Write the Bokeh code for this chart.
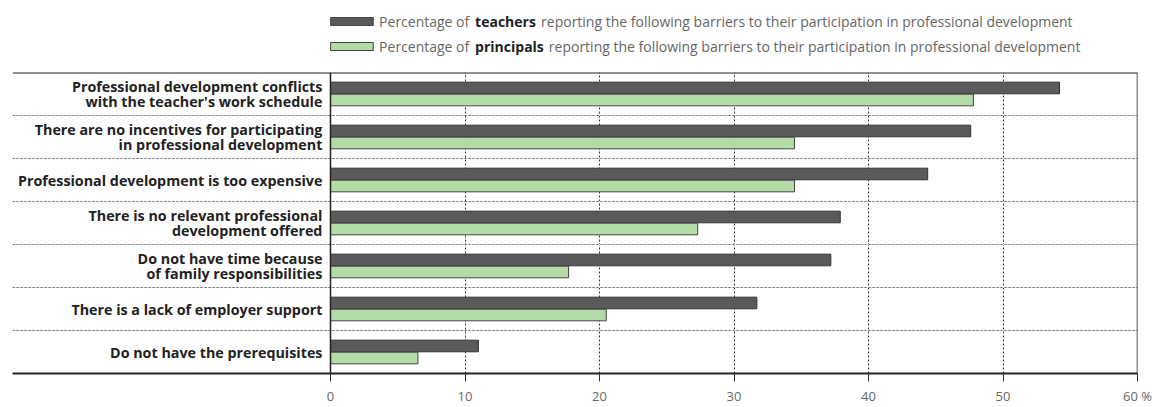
from bokeh.plotting import figure
from bokeh.layouts import column
from bokeh.models import Range1d, FixedTicker, Span, Grid, ColumnDataSource
from bokeh.core.properties import value
from bokeh.embed import file_html
from bokeh.resources import INLINE

categories = [
    "Professional development conflicts\nwith the teacher's work schedule",
    "There are no incentives for participating\nin professional development",
    "Professional development is too expensive",
    "There is no relevant professional\ndevelopment offered",
    "Do not have time because\nof family responsibilities",
    "There is a lack of employer support",
    "Do not have the prerequisites",
]
teachers = [54.2, 47.6, 44.4, 37.9, 37.2, 31.7, 11.0]
principals = [47.8, 34.5, 34.5, 27.3, 17.7, 20.5, 6.5]
x_ticks = [0, 10, 20, 30, 40, 50, 60]

n = len(categories)
centers = [n - 0.5 - i for i in range(n)]
BH = 0.27
DARK = "#5a5a5a"
GREEN = "#b2dba6"
FONT = "Open Sans"

W = 1160
# ---------- legend figure ----------
LH = 60
leg = figure(width=W, height=LH, x_range=Range1d(0, W), y_range=Range1d(LH, 0),
             toolbar_location=None, output_backend="svg", min_border=0,
             x_axis_location=None, y_axis_location=None)
leg.outline_line_color = None
leg.xgrid.visible = False
leg.ygrid.visible = False
leg_y = [21, 46]
leg.rect(x=[350, 350], y=leg_y, width=44, height=8,
         fill_color=[DARK, GREEN], line_color="#444", line_width=1)
leg.text(x=[378, 378], y=leg_y, text=["Percentage of", "Percentage of"],
         text_font=value(FONT), text_font_size="14px", text_color="#666",
         text_baseline="middle", text_align="left")
leg.text(x=[477, 477], y=leg_y, text=["teachers", "principals"],
         text_font=value(FONT), text_font_size="14px", text_color="#222",
         text_font_style="bold", text_baseline="middle", text_align="left")
rest = "reporting the following barriers to their participation in professional development"
leg.text(x=[545, 553], y=leg_y, text=[rest, rest],
         text_font=value(FONT), text_font_size="14px", text_color="#666",
         text_baseline="middle", text_align="left")

# ---------- main figure ----------
MH = 347
left_px = 318.0
frame_w = 1125.0
upp = 60.0 / (frame_w - left_px)
x0 = -left_px * upp

p = figure(width=W, height=MH, x_range=Range1d(x0, 60), y_range=Range1d(0, n),
           toolbar_location=None, output_backend="svg",
           min_border_left=12, min_border_right=W - 12 - int(frame_w),
           min_border_top=12, min_border_bottom=30,
           y_axis_location=None)
p.outline_line_color = None
p.background_fill_color = "white"

p.xgrid.ticker = FixedTicker(ticks=[10, 20, 30, 40, 50])
p.xgrid.grid_line_color = "#333"
p.xgrid.grid_line_dash = "2 2"
p.xgrid.grid_line_width = 1

hgrid = Grid(dimension=1, ticker=FixedTicker(ticks=list(range(1, n))),
             grid_line_color="#666", grid_line_dash="2 2", grid_line_width=1)
p.add_layout(hgrid)

src = ColumnDataSource(dict(
    cat=categories, c=centers, t=teachers, pr=principals,
    yt=[c + BH / 2 + 0.005 for c in centers],
    yp=[c - BH / 2 - 0.005 for c in centers],
))
p.hbar(y="yt", left=0, right="t", height=BH, source=src,
       fill_color=DARK, line_color="#333", line_width=1)
p.hbar(y="yp", left=0, right="pr", height=BH, source=src,
       fill_color=GREEN, line_color="#444", line_width=1)

p.text(x=-0.6, y="c", text="cat", source=src,
       text_font=value(FONT), text_font_size="14.3px", text_font_style="bold",
       text_color="#222", text_align="right", text_baseline="middle",
       text_line_height=0.8)

p.add_layout(Span(location=0, dimension="height", line_color="#222", line_width=1.5))
p.add_layout(Span(location=60, dimension="height", line_color="#222", line_width=1.5))
p.add_layout(Span(location=n, dimension="width", line_color="#222", line_width=2))

ax = p.xaxis[0]
ax.ticker = FixedTicker(ticks=x_ticks)
ax.major_label_overrides = {60: "60 %"}
ax.axis_line_color = "#222"
ax.axis_line_width = 2
ax.major_tick_out = 8
ax.major_tick_in = 0
ax.major_tick_line_color = "#333"
ax.minor_tick_line_color = None
ax.major_label_standoff = 5
ax.major_label_text_font = FONT
ax.major_label_text_font_size = "13px"
ax.major_label_text_color = "#666"

layout = column(leg, p, spacing=0)
open("out.html", "w").write(file_html(layout, INLINE))
